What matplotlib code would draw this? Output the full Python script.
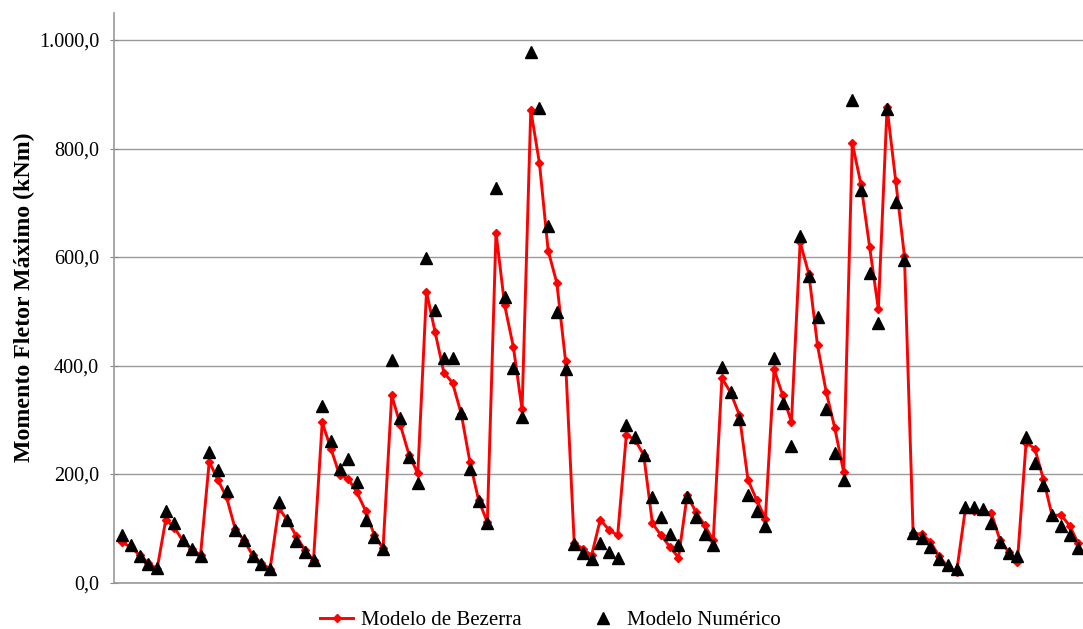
import numpy as np
import matplotlib
matplotlib.use('Agg')
import matplotlib.pyplot as plt
from matplotlib.ticker import FuncFormatter

# fonte parecida com Times New Roman
plt.rcParams['font.family'] = ['Liberation Serif', 'DejaVu Serif']

# dados (kNm)
bezerra = [74, 65, 50, 36, 25, 116, 101, 76, 61, 51,
           223, 189, 157, 98, 78, 50, 36, 25, 137, 115,
           86, 60, 41.5, 295, 247, 198, 191, 166, 132, 87,
           63, 345, 290, 235, 201, 536, 461, 387, 368, 311,
           222, 152, 111, 645, 511, 434, 319, 871, 773, 612,
           552, 409, 73, 62, 50, 116, 97, 87, 272, 263,
           235, 109, 87, 66, 46, 161, 130, 106, 78, 377,
           350, 309, 189, 152, 118, 393, 345, 296, 627, 569,
           437, 351, 284, 204, 810, 734, 618, 504, 876, 740,
           602, 91, 89, 75, 48, 29, 19, 134, 132, 131,
           128, 78, 56, 38, 258, 247, 190, 123, 125, 105,
           72]
numerico = [88, 69, 48, 34, 26, 131, 109, 78, 61, 49,
            241, 207, 169, 96, 78, 48, 35, 25, 149, 115,
            77, 57, 42, 325, 260, 210, 228, 185, 115, 83,
            61, 410, 304, 232, 183, 598, 503, 414, 413, 312,
            209, 150, 110, 728, 526, 396, 305, 978, 875, 658,
            499, 394, 71, 55, 43, 72, 56, 45, 290, 269,
            235, 158, 120, 89, 69, 158, 120, 89, 69, 398,
            352, 302, 162, 132, 104.5, 413, 330, 251, 639, 565,
            489, 320, 239, 189, 890, 723, 571, 479, 873, 702,
            595, 91, 82, 66, 43, 32, 25.5, 140, 140, 135,
            109, 74, 55, 49, 269, 220, 179, 124, 105, 88,
            64]
x = np.arange(len(bezerra))

fig = plt.figure(figsize=(10.83, 6.29), dpi=100)
ax = fig.add_axes([0.1053, 0.0739, 0.8947, 0.9056])

ax.plot(x, bezerra, color='#ff0000', lw=2.1, marker='D', ms=3.8,
        label='Modelo de Bezerra', zorder=3)
ax.plot(x, numerico, ls='none', color='black', marker='^', ms=8.5,
        label='Modelo Numérico', zorder=4)

ax.set_xlim(-0.955, 110.55)
ax.set_ylim(0, 1050)
ax.set_yticks(np.arange(0, 1001, 200))
ax.yaxis.set_major_formatter(FuncFormatter(
    lambda v, p: '{:,.1f}'.format(v).replace(',', 'X').replace('.', ',').replace('X', '.')))
ax.set_xticks([])
ax.tick_params(axis='y', labelsize=14.5, direction='inout', length=5.8,
               color='#888888', pad=7.9)
ax.grid(axis='y', color='#999999', lw=1)
ax.set_axisbelow(True)
for s in ['top', 'right']:
    ax.spines[s].set_visible(False)
for s in ['left', 'bottom']:
    ax.spines[s].set_color('#999999')
    ax.spines[s].set_linewidth(1.2)

ax.set_ylabel('Momento Fletor Máximo (kNm)', fontsize=17.2, fontweight='bold', labelpad=3)

fig.legend(loc='center', bbox_to_anchor=(0.508, 0.0143), ncol=2, frameon=False,
           fontsize=15, columnspacing=3.1, handlelength=1.6, handletextpad=0.35,
           borderpad=0, borderaxespad=0)

fig.savefig('out.png', dpi=100)
